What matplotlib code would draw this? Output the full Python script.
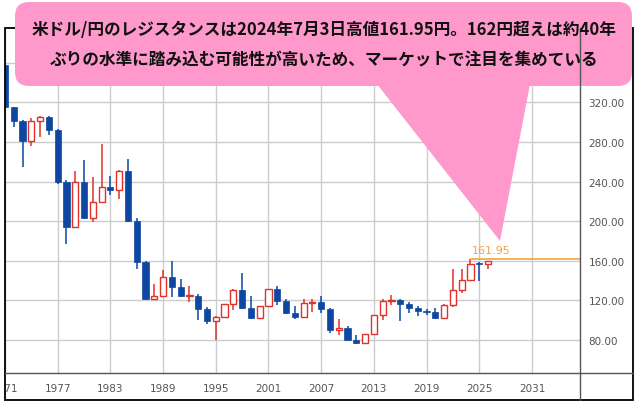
import numpy as np
import matplotlib
matplotlib.use("Agg")
import matplotlib.pyplot as plt
import matplotlib.patches as patches
from matplotlib.transforms import Bbox, TransformedBbox

# 年足 米ドル/円 (1971-2026)
years = np.arange(1971, 2027)
opens = [357.7, 315.0, 301.5, 280.5, 301.0, 305.0, 292.5, 239.5, 194.5, 239.5,
         203.0, 219.5, 234.5, 231.5, 250.5, 200.0, 158.5, 121.0, 124.5, 143.5,
         134.0, 124.3, 124.8, 111.5, 99.5, 103.0, 116.0, 130.0, 112.5, 102.0,
         114.0, 131.0, 119.0, 107.5, 103.0, 117.5, 118.5, 111.0, 90.0, 92.5,
         80.5, 76.5, 86.0, 105.0, 119.5, 120.3, 116.8, 112.5, 109.5, 108.0,
         102.5, 115.0, 130.0, 140.5, 157.2, 156.7]
highs = [358.4, 315.5, 302.0, 304.5, 306.5, 306.0, 293.0, 242.0, 251.0, 262.0,
         245.0, 277.5, 245.5, 251.5, 262.5, 203.0, 159.5, 137.0, 150.5, 160.0,
         141.5, 134.5, 126.0, 113.5, 104.0, 116.5, 131.0, 147.5, 124.5, 114.5,
         131.5, 135.0, 121.0, 114.5, 121.5, 121.5, 124.0, 112.0, 101.5, 94.5,
         85.5, 86.5, 105.5, 121.0, 125.5, 121.5, 118.5, 114.5, 111.5, 112.0,
         116.0, 151.5, 151.5, 161.95, 158.5, 160.2]
lows = [314.0, 295.0, 254.5, 275.5, 284.5, 286.5, 238.0, 176.5, 194.0, 202.0,
        199.0, 218.0, 226.0, 222.0, 199.5, 152.0, 120.5, 120.0, 123.5, 123.5,
        123.0, 118.5, 100.5, 96.0, 80.0, 102.0, 110.5, 111.0, 101.5, 101.5,
        113.5, 115.0, 106.5, 101.5, 102.0, 108.5, 107.5, 87.0, 85.0, 80.0,
        75.5, 76.0, 86.0, 100.5, 115.5, 99.5, 107.5, 104.5, 105.0, 101.5,
        102.0, 113.5, 127.5, 139.5, 139.8, 152.0]
closes = [315.0, 301.5, 280.5, 301.0, 305.0, 292.5, 239.5, 194.5, 239.5, 203.0,
          219.5, 234.5, 231.5, 250.5, 200.0, 158.5, 121.0, 124.5, 143.5, 134.0,
          124.5, 124.8, 111.5, 99.5, 103.0, 116.0, 130.0, 112.5, 102.0, 114.0,
          131.0, 119.0, 107.5, 103.0, 117.5, 118.5, 111.0, 90.0, 92.5, 80.5,
          76.5, 86.0, 105.0, 119.5, 120.3, 116.8, 112.5, 109.5, 108.0, 102.5,
          115.0, 130.0, 140.5, 157.2, 156.7, 160.0]

resistance = 161.95
resistance_year = 2024
x_ticks = [1971, 1977, 1983, 1989, 1995, 2001, 2007, 2013, 2019, 2025, 2031]
y_ticks = [80, 120, 160, 200, 240, 280, 320, 360]
y_labels = ["80.00", "120.00", "160.00", "200.00", "240.00", "280.00", "320.00", ""]
callout_lines = ["米ドル/円のレジスタンスは2024年7月3日高値161.95円。162円超えは約40年",
                 "ぶりの水準に踏み込む可能性が高いため、マーケットで注目を集めている"]

BLUE = "#0D47A1"
RED = "#E0312B"
ORANGE = "#F2A33A"
PINK = "#FF99CC"

W, H = 640, 402
fig = plt.figure(figsize=(6.4, 4.02), dpi=100)


def px_rect(x0, y0, x1, y1):
    return [x0 / W, 1 - y1 / H, (x1 - x0) / W, (y1 - y0) / H]


ax = fig.add_axes(px_rect(5, 29, 580, 374))
ax.set_xlim(1971.05, 2036.47)
ax.set_ylim(46.7, 395.0)

o = np.array(opens)
c = np.array(closes)
hi = np.array(highs)
lo = np.array(lows)
up = c >= o
body_lo = np.minimum(o, c)
body_h = np.maximum(np.abs(c - o), 1.0)
colors = np.where(up, RED, BLUE)

# ヒゲ
ax.vlines(years, lo, hi, colors=colors, lw=1.1, zorder=2)
# 陽線 (中抜き) / 陰線 (塗りつぶし)
ax.bar(years[up], body_h[up], bottom=body_lo[up], width=0.7,
       facecolor="white", edgecolor=RED, lw=1.0, zorder=3)
ax.bar(years[~up], body_h[~up], bottom=body_lo[~up], width=0.7,
       facecolor=BLUE, edgecolor=BLUE, lw=0.5, zorder=3)

# レジスタンスライン
ax.hlines(resistance, resistance_year, ax.get_xlim()[1], color=ORANGE, lw=1.2, zorder=4)
ax.annotate(f"{resistance:.2f}", (2026.4, resistance), xytext=(0, 3),
            textcoords="offset points", ha="center", va="bottom",
            color=ORANGE, fontsize=8)

ax.grid(color="#cccccc", lw=1)
ax.set_axisbelow(True)
for s in ax.spines.values():
    s.set_visible(False)

ax.set_xticks(x_ticks)
xlabels = ax.set_xticklabels([str(y) for y in x_ticks])
ax.set_yticks(y_ticks)
ax.set_yticklabels(y_labels)
ax.yaxis.tick_right()
ax.tick_params(axis="both", length=0, labelsize=7.5, labelcolor="#555555")
ax.tick_params(axis="x", pad=7)
ax.tick_params(axis="y", pad=6)

# 枠の外にはみ出す目盛りラベルは切り取る
clip = TransformedBbox(Bbox.from_extents(5 / W, 0, 633 / W, 1), fig.transFigure)
for t in xlabels:
    t.set_clip_on(True)
    t.set_clip_box(clip)

# 枠線と吹き出し (ピクセル座標のオーバーレイ)
ov = fig.add_axes([0, 0, 1, 1], zorder=5)
ov.set_xlim(0, W)
ov.set_ylim(H, 0)
ov.axis("off")
ov.patch.set_alpha(0)

ov.plot([580, 580], [29, 401], color="#555555", lw=1)
ov.plot([5, 633], [374, 374], color="#555555", lw=1)
ov.add_patch(patches.Rectangle((5, 29), 628, 372, fill=False, edgecolor="black", lw=1.3))

ov.add_patch(patches.FancyBboxPatch((15, 3), 617, 84, boxstyle="round,pad=0,rounding_size=14",
                                    facecolor=PINK, edgecolor="none"))
ov.add_patch(patches.Polygon([(373, 80), (531, 80), (500, 242)], closed=True,
                             facecolor=PINK, edgecolor="none"))

for y, line in zip([30, 60], callout_lines):
    ov.text(324, y, line, ha="center", va="center", fontsize=12, fontweight="bold",
            color="#111111", family=["Noto Sans CJK JP", "DejaVu Sans"])

fig.savefig("out.png", dpi=100)
